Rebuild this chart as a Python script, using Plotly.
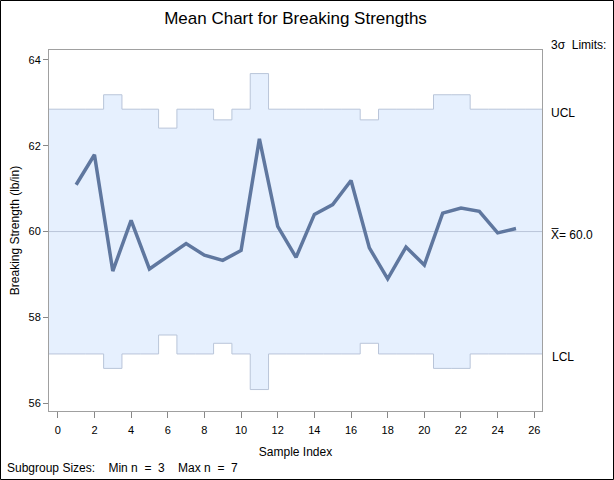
import numpy as np
import plotly.graph_objects as go

# ---- data ----
samples = list(range(1, 26))
means = [61.09, 61.79, 59.08, 60.26, 59.13, 59.43, 59.72, 59.45, 59.33, 59.56,
         62.16, 60.12, 59.40, 60.40, 60.63, 61.19, 59.62, 58.90, 59.64, 59.22,
         60.43, 60.55, 60.47, 59.97, 60.07]
sizes = [5, 5, 4, 5, 5, 7, 5, 5, 6, 5,
         3, 5, 5, 5, 5, 5, 6, 5, 5, 5,
         4, 4, 5, 5, 5]
center = 60.0
sigma = 2.125
x_ticks = list(range(0, 27, 2))
y_ticks = [56, 58, 60, 62, 64]

# ---- derived limits (step) ----
half = [3 * sigma / np.sqrt(n) for n in sizes]
ucl = [center + h for h in half]
lcl = [center - h for h in half]
xs = [-1.0] + [s - 0.5 for s in samples] + [samples[-1] + 0.5, 28.0]
ucl_s = [ucl[0]] + ucl + [center + 3 * sigma / np.sqrt(5)] * 2
lcl_s = [lcl[0]] + lcl + [center - 3 * sigma / np.sqrt(5)] * 2

LINE_C = "#B9C5D9"
FILL_C = "#E6F0FE"
DATA_C = "#5F779F"
FONT = "Liberation Sans, Arial, sans-serif"

fig = go.Figure()
fig.add_trace(go.Scatter(x=xs, y=ucl_s, mode="lines", line=dict(shape="hv", color=LINE_C, width=1),
                         hoverinfo="skip", showlegend=False))
fig.add_trace(go.Scatter(x=xs, y=lcl_s, mode="lines", line=dict(shape="hv", color=LINE_C, width=1),
                         fill="tonexty", fillcolor=FILL_C, hoverinfo="skip", showlegend=False))
fig.add_trace(go.Scatter(x=[-1, 28], y=[center, center], mode="lines",
                         line=dict(color=LINE_C, width=1), hoverinfo="skip", showlegend=False))
fig.add_trace(go.Scatter(x=samples, y=means, mode="lines",
                         line=dict(color=DATA_C, width=3.5), showlegend=False))

L, R, T, B = 49, 72, 50, 69
W, H = 614, 480
pw, ph = W - L - R, H - T - B

fig.update_layout(
    width=W, height=H,
    margin=dict(l=L, r=R, t=T, b=B, pad=0, autoexpand=False),
    paper_bgcolor="white", plot_bgcolor="white",
    font=dict(family=FONT, size=12, color="black"),
    title=dict(text="Mean Chart for Breaking Strengths", x=0.5, xanchor="center", xref="paper",
               y=1 - 18 / H, yanchor="middle", font=dict(size=17, family=FONT), automargin=False),
    xaxis=dict(range=[-0.48, 26.42], tickvals=x_ticks, ticks="outside", ticklen=6,
               tickcolor="#888888", showline=True, linecolor="#A0A0A0", mirror=True,
               showgrid=False, zeroline=False, tickfont=dict(size=11), automargin=False,
               ticklabelstandoff=3,
               title=dict(text="Sample Index", font=dict(size=12), standoff=12)),
    yaxis=dict(range=[55.82, 64.23], tickvals=y_ticks, ticks="outside", ticklen=5,
               tickcolor="#888888", showline=True, linecolor="#A0A0A0", mirror=True,
               showgrid=False, zeroline=False, tickfont=dict(size=11), automargin=False,
               title=dict(text="Breaking Strength (lb/in)", font=dict(size=12), standoff=6)),
)

def ann(text, x, y, xanchor="left"):
    fig.add_annotation(text=text, xref="paper", yref="paper",
                       x=(x - L) / pw, y=(H - B - y) / ph, xanchor=xanchor, yanchor="middle",
                       showarrow=False, font=dict(size=12, family=FONT))

ann("3σ  Limits:", 549, 45)
ann("UCL", 549, 113)
fig.add_annotation(text="X\u0305= %.1f" % center, xref="paper", y=center, yref="y",
                   x=(549 - L) / pw, xanchor="left", yanchor="middle", showarrow=False,
                   yshift=-3, font=dict(size=12, family=FONT))
ann("LCL", 550, 357)
ann("Subgroup Sizes:    Min n  =  %d    Max n  =  %d" % (min(sizes), max(sizes)), 5, 468)

# outer border
fig.add_shape(type="rect", xref="paper", yref="paper",
              x0=(0.5 - L) / pw, x1=(W - 0.5 - L) / pw,
              y0=(H - B - (H - 0.5)) / ph, y1=(H - B - 0.5) / ph,
              line=dict(color="black", width=1), layer="above")

fig.write_html("out.html", config={"displayModeBar": False},
               post_script="document.body.style.margin='0';")
